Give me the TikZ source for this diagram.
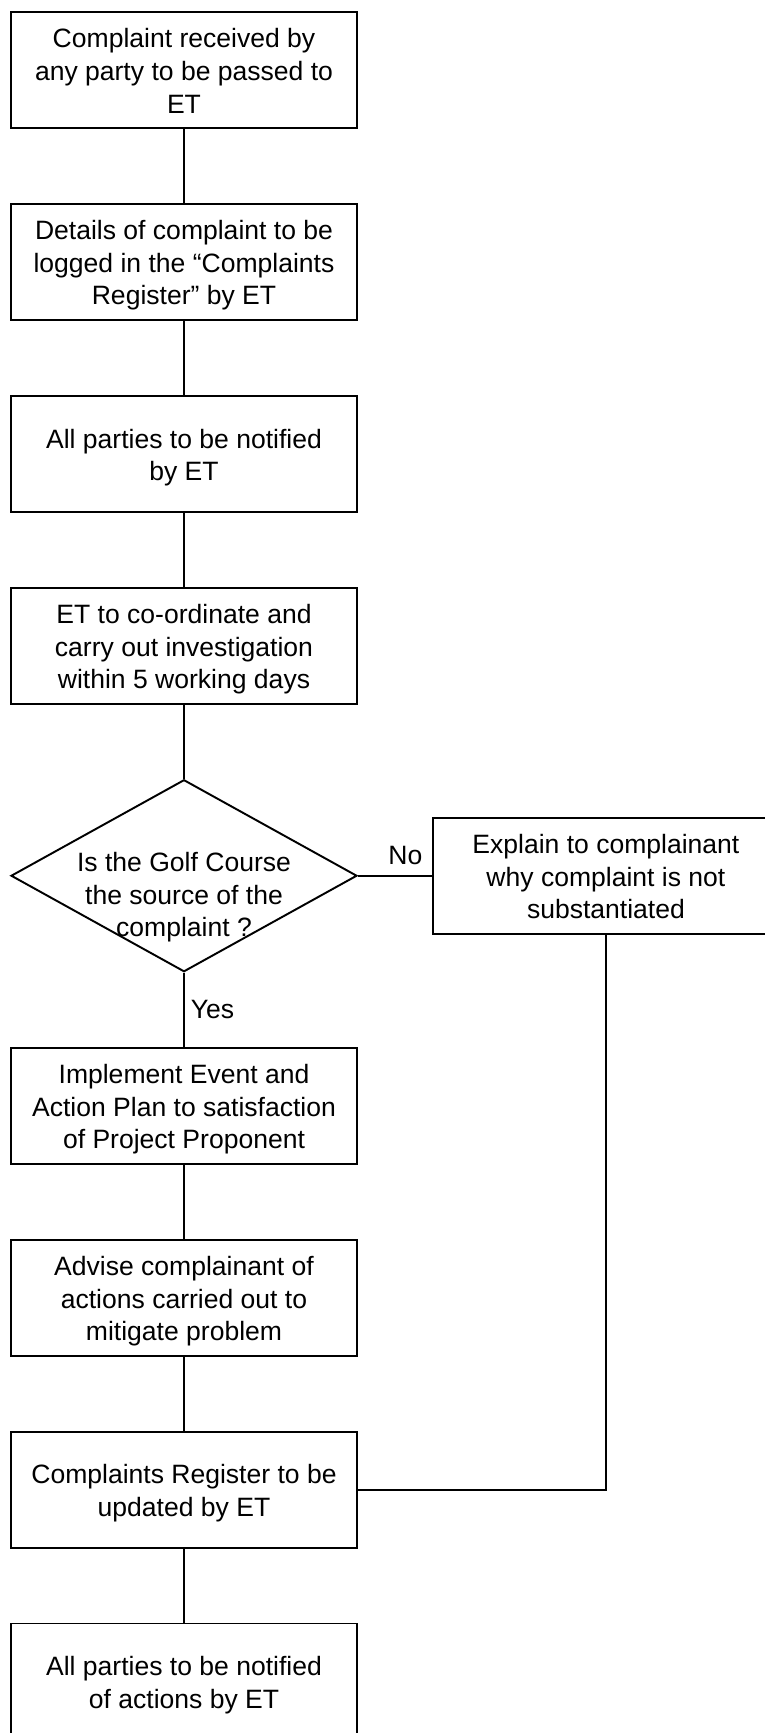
\documentclass[tikz,border=0pt]{standalone}
\usepackage{fontspec}
\setmainfont{Liberation Sans}
\usetikzlibrary{positioning,shapes.geometric}
\newcommand{\lnstrut}{\rule[-3.13pt]{0pt}{18.2pt}}% line box as in the source layout
\tikzset{
  flownode/.style = {align=center, inner sep=0pt, text centered,
    font=\fontsize{15.1pt}{18.5pt}\selectfont},
  fc_box/.style = {flownode, rectangle, draw=black, line width=1.1pt,
    minimum width=6.92cm, minimum height=2.32cm},% step box
  fc_dec/.style = {flownode, diamond, draw=black, line width=1.1pt,
    minimum width=6.92cm, minimum height=3.84cm},% decision, text put on top
  fc_lbl/.style = {font=\fontsize{15.1pt}{18.5pt}\selectfont}% yes / no
}
\begin{document}
\begin{tikzpicture}[node distance=1.48cm, line width=1.1pt]
\useasboundingbox (0,0) rectangle (15.3,-34.66);
\node [fc_box] (recu) at (3.68,-1.4) {\lnstrut Complaint received by\\any party to be passed to\\ET\lnstrut};
\node [fc_box, below=of recu] (logged) {\lnstrut Details of complaint to be\\logged in the “Complaints\\Register” by ET\lnstrut};
\node [fc_box, below=of logged] (notif) {\lnstrut All parties to be notified\\by ET\lnstrut};
\node [fc_box, below=of notif] (invest) {\lnstrut ET to co-ordinate and\\carry out investigation\\within 5 working days\lnstrut};
\node [fc_dec, below=of invest] (golf) {};
\node [flownode] (golftxt) at ([yshift=-0.36cm]golf.center) {\lnstrut Is the Golf Course\\the source of the\\complaint ?\lnstrut};
\node [fc_box, right=of golf] (expl) {\lnstrut Explain to complainant\\why complaint is not\\substantiated\lnstrut};
\node [fc_box, below=of golf] (plan) {\lnstrut Implement Event and\\Action Plan to satisfaction\\of Project Proponent\lnstrut};
\node [fc_box, below=of plan] (advise) {\lnstrut Advise complainant of\\actions carried out to\\mitigate problem\lnstrut};
\node [fc_box, below=of advise] (update) {\lnstrut Complaints Register to be\\updated by ET\lnstrut};
\node [fc_box, below=of update] (final) {\lnstrut All parties to be notified\\of actions by ET\lnstrut};

\draw (recu) -- (logged);
\draw (logged) -- (notif);
\draw (notif) -- (invest);
\draw (invest) -- (golf);
\draw (golf) -- node [fc_lbl, above=2.5pt, pos=0.64] (no) {No} (expl);
\draw (golf) -- node [fc_lbl, right] (yes) {Yes} (plan);
\draw (plan) -- (advise);
\draw (advise) -- (update);
\draw (update) -- (final);
\draw (expl) |- (update);
\end{tikzpicture}
\end{document}
